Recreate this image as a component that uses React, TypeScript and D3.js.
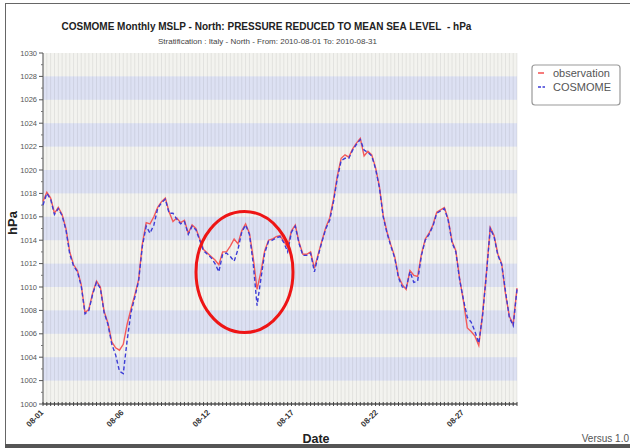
import React from 'react';
import * as d3 from 'd3';

// 6-hourly observations, 2010-08-01 00:00 onwards (hPa)
const observation: number[] = [
  1017.3, 1018.1, 1017.6, 1016.3, 1016.8, 1016.2, 1015.0, 1013.0, 1011.9, 1011.4,
  1010.2, 1007.8, 1008.1, 1009.5, 1010.5, 1010.0, 1007.9, 1006.9, 1005.3, 1004.8,
  1004.6, 1005.1, 1006.8, 1008.1, 1009.3, 1010.6, 1013.7, 1015.5, 1015.4, 1016.0,
  1016.8, 1017.3, 1017.6, 1016.4, 1015.6, 1015.9, 1015.5, 1015.7, 1014.6, 1015.3,
  1015.0, 1014.1, 1013.2, 1012.9, 1012.6, 1012.3, 1011.9, 1013.0, 1013.0, 1013.5,
  1014.1, 1013.7, 1014.8, 1015.4, 1014.6, 1012.5, 1009.8, 1011.3, 1013.1, 1014.0,
  1014.1, 1014.3, 1014.4, 1013.9, 1013.4, 1014.8, 1015.3, 1013.8, 1012.8, 1012.8,
  1013.0, 1011.6, 1012.8, 1014.0, 1015.1, 1015.9, 1017.5, 1019.5, 1021.0, 1021.3,
  1021.1, 1021.8, 1022.3, 1022.7, 1021.2, 1021.6, 1021.3, 1020.2, 1018.6, 1016.1,
  1014.7, 1013.6, 1012.6, 1010.9, 1010.2, 1009.8, 1011.4, 1011.0, 1010.9, 1012.8,
  1014.1, 1014.6, 1015.3, 1016.4, 1016.6, 1016.8, 1015.8, 1013.9, 1013.1, 1010.7,
  1008.8, 1006.5, 1006.2, 1005.8, 1005.0, 1007.7, 1011.2, 1015.1, 1014.4, 1012.8,
  1012.0, 1009.4, 1007.5, 1006.8, 1009.9,
];

const cosmome: number[] = [
  1017.0, 1018.0, 1017.5, 1016.2, 1016.7, 1016.1, 1014.9, 1012.8, 1011.8, 1011.3,
  1010.1, 1007.7, 1008.0, 1009.4, 1010.4, 1009.9, 1007.8, 1006.8, 1005.1, 1004.2,
  1002.8, 1002.6, 1005.4, 1007.8, 1009.1, 1010.5, 1013.5, 1015.2, 1014.6, 1015.3,
  1016.7, 1017.2, 1017.5, 1016.3, 1016.3, 1015.8, 1015.4, 1015.6, 1014.5, 1015.2,
  1014.9, 1014.0, 1013.1, 1012.8, 1012.5, 1012.0, 1011.3, 1012.8, 1012.9, 1012.6,
  1012.2, 1013.2, 1014.7, 1015.3, 1014.5, 1012.0, 1008.4, 1010.7, 1012.9, 1013.9,
  1014.0, 1014.2, 1014.3, 1013.8, 1013.0, 1014.7, 1015.2, 1013.7, 1012.7, 1012.7,
  1012.9, 1011.3, 1012.7, 1013.9, 1015.0, 1015.7, 1017.3, 1019.3, 1020.8, 1021.0,
  1021.0, 1021.7, 1022.2, 1022.6, 1021.7, 1021.5, 1021.2, 1020.1, 1018.5, 1016.0,
  1014.6, 1013.5, 1012.5, 1010.8, 1010.0, 1009.9, 1011.3, 1010.4, 1010.5, 1012.7,
  1014.0, 1014.5, 1015.2, 1016.3, 1016.5, 1016.7, 1015.7, 1013.8, 1013.0, 1010.6,
  1008.9, 1007.4, 1007.0, 1006.2, 1005.2, 1007.6, 1011.1, 1015.0, 1014.3, 1012.7,
  1011.9, 1009.6, 1007.4, 1006.7, 1009.8,
];

const xTickLabels: string[] = ['08-01', '08-06', '08-12', '08-17', '08-22', '08-27'];
const xTickSteps: number[] = [0, 21, 43.5, 65.5, 87.5, 110];
const yMajorTicks: number[] = d3.range(1000, 1031, 2);
const yMinorTicks: number[] = d3.range(1001, 1030, 2);
const bandStarts: number[] = [1002, 1006, 1010, 1014, 1018, 1022, 1026];

const seriesNames = ['observation', 'COSMOME'];

const FONT = '"Liberation Sans", Arial, Helvetica, sans-serif';

export default function App() {
  const W = 630;
  const H = 448;
  const left = 43, right = 517, top = 53, bottom = 404;
  const nSteps = observation.length - 1;

  const x = d3.scaleLinear().domain([0, nSteps]).range([left, right]);
  const y = d3.scaleLinear().domain([1000, 1030]).range([bottom, top]);

  const line = d3
    .line<number>()
    .x((_, i) => x(i))
    .y((d) => y(d))
    .curve(d3.curveLinear);

  const steps = d3.range(0, nSteps + 1);

  return (
    <svg
      width={W}
      height={H}
      viewBox={`0 0 ${W} ${H}`}
      style={{ position: 'absolute', left: 0, top: 0, background: '#fff' }}
      fontFamily={FONT}
    >
      <rect x={0} y={0} width={W} height={H} fill="#fff" />
      {/* frame */}
      <line x1={5} y1={3.5} x2={W} y2={3.5} stroke="#666" strokeWidth={1} />
      <line x1={5.5} y1={3} x2={5.5} y2={444} stroke="#666" strokeWidth={1} />
      <rect x={5} y={444} width={W - 5} height={4} fill="#555" />

      {/* titles */}
      <text x={266.5} y={30} textAnchor="middle" fontSize={10} fontWeight="bold" fill="#222">
        COSMOME Monthly MSLP - North: PRESSURE REDUCED TO MEAN SEA LEVEL{'\u00a0\u00a0'}- hPa
      </text>
      <text x={267.5} y={44} textAnchor="middle" fontSize={8} fill="#444">
        Stratification : Italy - North - From: 2010-08-01 To: 2010-08-31
      </text>

      {/* plot background */}
      <rect x={left} y={top} width={right - left} height={bottom - top} fill="#f3f3ef" />
      {bandStarts.map((b) => (
        <rect
          key={b}
          x={left}
          y={y(b + 2)}
          width={right - left}
          height={y(b) - y(b + 2)}
          fill="#dde1f3"
        />
      ))}
      {steps.map((s) => (
        <line
          key={'v' + s}
          x1={x(s)}
          x2={x(s)}
          y1={top}
          y2={bottom}
          stroke="#000"
          strokeOpacity={0.07}
          strokeWidth={1}
        />
      ))}

      {/* y axis */}
      <line x1={left} x2={left} y1={top} y2={bottom} stroke="#555" strokeWidth={1} />
      {yMajorTicks.map((t) => (
        <g key={'ym' + t}>
          <line x1={left - 4} x2={left} y1={y(t)} y2={y(t)} stroke="#555" />
          <text x={left - 6} y={y(t) + 2.5} textAnchor="end" fontSize={7.5} fill="#555">
            {t}
          </text>
        </g>
      ))}
      {yMinorTicks.map((t) => (
        <line key={'yn' + t} x1={left - 2} x2={left} y1={y(t)} y2={y(t)} stroke="#777" />
      ))}
      <text
        transform={`translate(17,223) rotate(-90)`}
        textAnchor="middle"
        fontSize={13}
        fontWeight="bold"
        fill="#222"
      >
        hPa
      </text>

      {/* x axis */}
      <line x1={left} x2={right} y1={bottom} y2={bottom} stroke="#555" strokeWidth={1.5} />
      {steps.map((s) => (
        <line key={'xt' + s} x1={x(s)} x2={x(s)} y1={bottom - 2} y2={bottom + 2} stroke="#444" />
      ))}
      {xTickLabels.map((lab, i) => (
        <text
          key={lab}
          transform={`translate(${x(xTickSteps[i]) + 1},${bottom + 9}) rotate(-45)`}
          textAnchor="end"
          fontSize={8}
          fontWeight="bold"
          fill="#333"
        >
          {lab}
        </text>
      ))}
      <text x={316} y={443} textAnchor="middle" fontSize={12.5} fontWeight="bold" fill="#222">
        Date
      </text>
      <text x={629} y={442} textAnchor="end" fontSize={10} fill="#555">
        Versus 1.0
      </text>

      {/* series */}
      <path d={line(observation) || ''} fill="none" stroke="#f45a5a" strokeWidth={1.4} />
      <path
        d={line(cosmome) || ''}
        fill="none"
        stroke="#3d3dd6"
        strokeWidth={1.4}
        strokeDasharray="4,2.5"
      />

      {/* annotation ellipse */}
      <ellipse cx={244.5} cy={272} rx={48.5} ry={60.5} fill="none" stroke="#ee1515" strokeWidth={3} />

      {/* legend */}
      <rect x={532} y={65} width={88} height={40} rx={3} fill="#fff" stroke="#9a9a9a" strokeWidth={1.2} />
      <line x1={538} x2={544} y1={73} y2={73} stroke="#f45a5a" strokeWidth={1.6} />
      <text x={553} y={77} fontSize={11} fill="#555">
        {seriesNames[0]}
      </text>
      <line x1={538} x2={545} y1={87} y2={87} stroke="#3d3dd6" strokeWidth={1.6} strokeDasharray="3,1.5" />
      <text x={553} y={91} fontSize={11} fill="#555">
        {seriesNames[1]}
      </text>
    </svg>
  );
}
